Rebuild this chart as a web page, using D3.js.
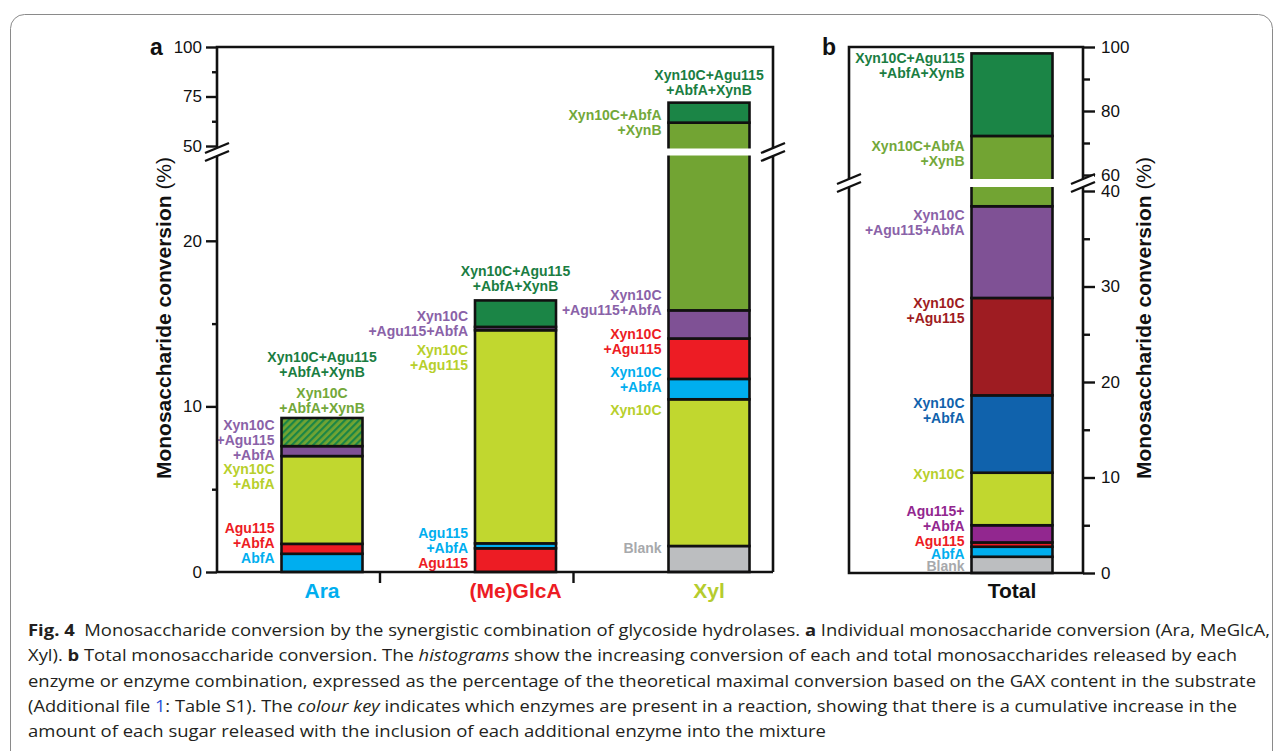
<!DOCTYPE html>
<html>
<head>
<meta charset="utf-8">
<script src="https://cdn.jsdelivr.net/npm/d3@7"></script>
<style>
  body { margin: 0; background: #fff; }
  svg { display: block; }
</style>
</head>
<body>
<svg id="chart" width="1282" height="751"></svg>
<script>
// ---- data: conversion (%) reached by each enzyme combination ----
const sugars = ["Ara", "(Me)GlcA", "Xyl"];

const araCombos = ["AbfA", "Agu115+AbfA", "Xyn10C+AbfA", "Xyn10C+Agu115+AbfA", "Xyn10C+AbfA+XynB", "Xyn10C+Agu115+AbfA+XynB"];
const araValues = [1.1, 1.7, 7.0, 7.6, 9.3, 9.3];
const araLabels = [["AbfA"], ["Agu115", "+AbfA"], ["Xyn10C", "+AbfA"], ["Xyn10C", "+Agu115", "+AbfA"], ["Xyn10C", "+AbfA+XynB"], ["Xyn10C+Agu115", "+AbfA+XynB"]];
const araLabelAt = [0.85, 2.66, 6.2, 8.9, 10.8, 13.0];

const glcaCombos = ["Agu115", "Agu115+AbfA", "Xyn10C+Agu115", "Xyn10C+Agu115+AbfA", "Xyn10C+Agu115+AbfA+XynB"];
const glcaValues = [1.43, 1.73, 14.6, 14.8, 16.4];
const glcaLabels = [["Agu115"], ["Agu115", "+AbfA"], ["Xyn10C", "+Agu115"], ["Xyn10C", "+Agu115+AbfA"], ["Xyn10C+Agu115", "+AbfA+XynB"]];
const glcaLabelAt = [0.54, 2.36, 13.4, 15.47, 18.2];

const xylCombos = ["Blank", "Xyn10C", "Xyn10C+AbfA", "Xyn10C+Agu115", "Xyn10C+Agu115+AbfA", "Xyn10C+AbfA+XynB", "Xyn10C+Agu115+AbfA+XynB"];
const xylValues = [1.57, 10.43, 11.66, 14.1, 15.8, 61.8, 71.9];
const xylLabels = [["Blank"], ["Xyn10C"], ["Xyn10C", "+AbfA"], ["Xyn10C", "+Agu115"], ["Xyn10C", "+Agu115+AbfA"], ["Xyn10C+AbfA", "+XynB"], ["Xyn10C+Agu115", "+AbfA+XynB"]];
const xylLabelAt = [1.45, 9.8, 12.1, 14.4, 16.7, 65.7, 85.9];

const totalCombos = ["Blank", "AbfA", "Agu115", "Agu115+AbfA", "Xyn10C", "Xyn10C+AbfA", "Xyn10C+Agu115", "Xyn10C+Agu115+AbfA", "Xyn10C+AbfA+XynB", "Xyn10C+Agu115+AbfA+XynB"];
const totalValues = [1.7, 2.75, 3.2, 5.0, 10.5, 18.6, 28.8, 38.4, 72.2, 98];
const totalLabels = [["Blank"], ["AbfA"], ["Agu115"], ["Agu115+", "+AbfA"], ["Xyn10C"], ["Xyn10C", "+AbfA"], ["Xyn10C", "+Agu115"], ["Xyn10C", "+Agu115+AbfA"], ["Xyn10C+AbfA", "+XynB"], ["Xyn10C+Agu115", "+AbfA+XynB"]];
const totalLabelAt = [0.7, 2.0, 3.35, 6.45, 10.4, 17.8, 28.3, 37.5, 69.1, 96.6];

const ticksA = [0, 10, 20, 50, 75, 100];
const minorA = [5, 15, 62.5, 87.5];
const ticksB = [0, 10, 20, 30, 40, 60, 80, 100];
const minorB = [5, 15, 25, 35, 70, 90];

// ---- styles ----
const col = {
  grey: "#bcbec0", cyan: "#00aeef", red: "#ed1c24", yg: "#c1d72f", purple: "#7f5195",
  magenta: "#92278f", blue: "#1062ac", darkred: "#9e1c22", olive: "#72a433", green: "#1b8546"
};
const araColors = [col.cyan, col.red, col.yg, col.purple, col.olive, col.green];
const glcaColors = [col.red, col.cyan, col.yg, col.purple, col.green];
const xylColors = [col.grey, col.yg, col.cyan, col.red, col.purple, col.olive, col.green];
const totalColors = [col.grey, col.cyan, col.red, col.magenta, col.yg, col.blue, col.darkred, col.purple, col.olive, col.green];
const labelColor = c => c === col.purple ? "#8a62a8" : c === col.olive ? "#73a83a" : c === col.green ? "#1a7d42" : c === col.grey ? "#a7a9ac" : c === col.yg ? "#b7cf2c" : c;
const sugarColors = [col.cyan, col.red, "#b5cc2e"];

const FONT = "'Liberation Sans', Arial, Helvetica, sans-serif";
const BAR_W = 81, LINE_H = 15;

const svg = d3.select("#chart");
const defs = svg.append("defs");
const hatch = defs.append("pattern").attr("id", "hatch")
  .attr("patternUnits", "userSpaceOnUse").attr("width", 5).attr("height", 5)
  .attr("patternTransform", "rotate(45)");
hatch.append("rect").attr("width", 5).attr("height", 5).attr("fill", col.olive);
hatch.append("rect").attr("width", 2.2).attr("height", 5).attr("fill", col.green);

// figure frame
svg.append("rect").attr("x", 10.5).attr("y", 14.5).attr("width", 1262).attr("height", 770)
  .attr("rx", 14).attr("fill", "none").attr("stroke", "#8a8a8a").attr("stroke-width", 1);

// ---- scales ----
const xA = d3.scalePoint().domain(sugars).range([322, 709]);
const yA = d3.scaleLinear().domain([0, 25, 50, 100]).range([572, 158, 146, 47]);
const xB = d3.scalePoint().domain(["Total"]).range([1012, 1012]);
const yB = d3.scaleLinear().domain([0, 40, 60, 100]).range([573, 191, 175, 47]);

function drawBar(g, cx, values, colors, labels, labelAt, y) {
  const x0 = cx - BAR_W / 2;
  const top = d3.max(values);
  values.forEach((v, i) => {
    const prev = i === 0 ? 0 : values[i - 1];
    if (v - prev <= 0) return;
    const hatched = i + 1 < values.length && values[i + 1] === v;
    g.append("rect").attr("x", x0).attr("y", y(v)).attr("width", BAR_W).attr("height", y(prev) - y(v))
      .attr("fill", hatched ? "url(#hatch)" : colors[i])
      .attr("stroke", "#111").attr("stroke-width", 2.6);
  });
  labels.forEach((lines, i) => {
    const above = labelAt[i] > top;
    const lx = above ? cx : x0 - 7;
    const t = g.append("text")
      .attr("x", lx)
      .attr("y", y(labelAt[i]))
      .attr("text-anchor", above ? "middle" : "end")
      .attr("dominant-baseline", "central")
      .attr("font-family", FONT).attr("font-weight", "bold").attr("font-size", 14)
      .attr("fill", labelColor(colors[i]));
    lines.forEach((s, k) => t.append("tspan").attr("x", lx).attr("dy", k === 0 ? 0 : LINE_H).text(s));
  });
}

function breakMark(g, x, yc) {
  g.append("polygon")
    .attr("points", [[x - 11, yc + 8], [x + 11, yc - 1], [x + 11, yc - 8], [x - 11, yc + 1]].map(p => p.join(",")).join(" "))
    .attr("fill", "#fff");
  [-4, 4].forEach(d => g.append("line")
    .attr("x1", x - 12).attr("y1", yc + d + 5).attr("x2", x + 12).attr("y2", yc + d - 5)
    .attr("stroke", "#111").attr("stroke-width", 2.4));
}

function styleAxis(sel, size) {
  sel.select(".domain").remove();
  sel.selectAll(".tick line").attr("stroke", "#111").attr("stroke-width", 2.4);
  sel.selectAll(".tick text").attr("font-family", FONT).attr("font-size", size).attr("fill", "#111");
}

// ---- panel a ----
const gA = svg.append("g");
drawBar(gA, xA("Ara"), araValues, araColors, araLabels, araLabelAt, yA);
drawBar(gA, xA("(Me)GlcA"), glcaValues, glcaColors, glcaLabels, glcaLabelAt, yA);
drawBar(gA, xA("Xyl"), xylValues, xylColors, xylLabels, xylLabelAt, yA);

const breakA = (yA(25) + yA(50)) / 2;
gA.append("rect").attr("x", xA("Xyl") - BAR_W / 2 - 3).attr("y", breakA - 3.5)
  .attr("width", BAR_W + 6).attr("height", 7).attr("fill", "#fff");

const leftA = 217, rightA = 773;
gA.append("path").attr("d", `M${leftA},${yA(0)}V${yA(100)}H${rightA}V${yA(0)}`)
  .attr("fill", "none").attr("stroke", "#111").attr("stroke-width", 2.6);
gA.append("line").attr("x1", leftA).attr("x2", rightA).attr("y1", yA(0)).attr("y2", yA(0))
  .attr("stroke", "#111").attr("stroke-width", 2.6);
sugars.slice(0, 2).forEach(s => gA.append("line")
  .attr("x1", xA(s) + 58).attr("x2", xA(s) + 58).attr("y1", yA(0)).attr("y2", yA(0) + 11)
  .attr("stroke", "#111").attr("stroke-width", 2.4));

gA.append("g").attr("transform", `translate(${leftA},0)`)
  .call(d3.axisLeft(yA).tickValues(ticksA).tickSize(11).tickPadding(4).tickFormat(d3.format("d")))
  .call(s => styleAxis(s, 17));
gA.append("g").attr("transform", `translate(${leftA},0)`)
  .call(d3.axisLeft(yA).tickValues(minorA).tickSize(5).tickFormat(""))
  .call(s => styleAxis(s, 17));
breakMark(gA, leftA, breakA);
breakMark(gA, rightA, breakA);

gA.selectAll(".cat").data(sugars).join("text")
  .attr("x", d => xA(d)).attr("y", 598)
  .attr("text-anchor", "middle").attr("font-family", FONT).attr("font-weight", "bold")
  .attr("font-size", 21).attr("fill", (d, i) => sugarColors[i]).text(d => d);

const titleA = gA.append("text").attr("transform", "translate(171,318) rotate(-90)")
  .attr("text-anchor", "middle").attr("font-family", FONT).attr("font-size", 21).attr("fill", "#111");
titleA.append("tspan").attr("font-weight", "bold").text("Monosaccharide conversion");
titleA.append("tspan").text(" (%)");
gA.append("text").attr("x", 150).attr("y", 55).attr("font-family", FONT).attr("font-weight", "bold")
  .attr("font-size", 23).attr("fill", "#111").text("a");

// ---- panel b ----
const gB = svg.append("g");
drawBar(gB, xB("Total"), totalValues, totalColors, totalLabels, totalLabelAt, yB);
const breakB = (yB(40) + yB(60)) / 2;
gB.append("rect").attr("x", xB("Total") - BAR_W / 2 - 3).attr("y", breakB - 4)
  .attr("width", BAR_W + 6).attr("height", 8).attr("fill", "#fff");

const leftB = 849, rightB = 1083;
gB.append("path").attr("d", `M${leftB},${yB(0)}V${yB(100)}H${rightB}V${yB(0)}Z`)
  .attr("fill", "none").attr("stroke", "#111").attr("stroke-width", 2.6);
gB.append("g").attr("transform", `translate(${rightB},0)`)
  .call(d3.axisRight(yB).tickValues(ticksB).tickSize(12).tickPadding(6).tickFormat(d3.format("d")))
  .call(s => styleAxis(s, 17));
gB.append("g").attr("transform", `translate(${rightB},0)`)
  .call(d3.axisRight(yB).tickValues(minorB).tickSize(7).tickFormat(""))
  .call(s => styleAxis(s, 17));
breakMark(gB, leftB, breakB);
breakMark(gB, rightB, breakB);

gB.append("text").attr("x", xB("Total")).attr("y", 598).attr("text-anchor", "middle")
  .attr("font-family", FONT).attr("font-weight", "bold").attr("font-size", 21).attr("fill", "#111").text("Total");
const titleB = gB.append("text").attr("transform", "translate(1151,318) rotate(-90)")
  .attr("text-anchor", "middle").attr("font-family", FONT).attr("font-size", 21).attr("fill", "#111");
titleB.append("tspan").attr("font-weight", "bold").text("Monosaccharide conversion");
titleB.append("tspan").text(" (%)");
gB.append("text").attr("x", 822).attr("y", 55).attr("font-family", FONT).attr("font-weight", "bold")
  .attr("font-size", 23).attr("fill", "#111").text("b");

// ---- caption ----
const caption = [
  { w: 1242, parts: [["Fig. 4", "b"], ["  Monosaccharide conversion by the synergistic combination of glycoside hydrolases. "], ["a", "b"], [" Individual monosaccharide conversion (Ara, MeGlcA,"]] },
  { w: 1209, parts: [["Xyl). "], ["b", "b"], [" Total monosaccharide conversion. The "], ["histograms", "i"], [" show the increasing conversion of each and total monosaccharides released by each"]] },
  { w: 1228, parts: [["enzyme or enzyme combination, expressed as the percentage of the theoretical maximal conversion based on the GAX content in the substrate"]] },
  { w: 1209, parts: [["(Additional file "], ["1", "link"], [": Table S1). The "], ["colour key", "i"], [" indicates which enzymes are present in a reaction, showing that there is a cumulative increase in the"]] },
  { w: 798, parts: [["amount of each sugar released with the inclusion of each additional enzyme into the mixture"]] }
];
caption.forEach((line, i) => {
  const t = svg.append("text").attr("x", 28).attr("y", 636 + i * 25.3)
    .attr("font-family", "'Liberation Sans Narrow', 'Open Sans', sans-serif").attr("font-size", 16.5)
    .attr("fill", "#231f20").attr("textLength", line.w).attr("lengthAdjust", "spacingAndGlyphs")
    .style("white-space", "pre");
  line.parts.forEach(([s, st]) => {
    const sp = t.append("tspan").text(s);
    if (st === "b") sp.attr("font-weight", "bold");
    if (st === "i") sp.attr("font-style", "italic");
    if (st === "link") sp.attr("fill", "#2a4fd8");
  });
});
</script>
</body>
</html>
